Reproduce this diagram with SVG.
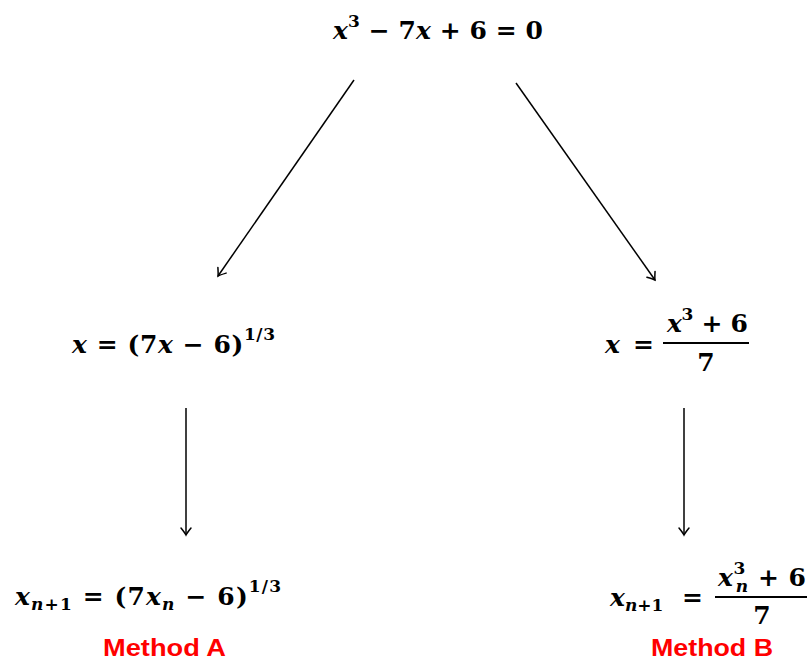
<svg xmlns="http://www.w3.org/2000/svg" width="809" height="661" viewBox="0 0 809 661">
<defs>
<style>
.m{font-family:"DejaVu Serif","Liberation Serif",serif;font-weight:bold;font-size:25px;fill:#000}
.i{font-style:italic}
.sup{font-size:17px}
.lbl{font-family:"Liberation Sans",Arial,sans-serif;font-weight:bold;font-size:24px;fill:#ff0000}
.c{stroke:#000;stroke-width:1.5;fill:none}
.fr{stroke:#000;stroke-width:2}
</style>
<marker id="ah" markerUnits="userSpaceOnUse" markerWidth="16" markerHeight="16" viewBox="-10 -8 12 16" refX="0" refY="0" orient="auto">
<path d="M-7,-5 Q-2,-1 0,0 Q-2,1 -7,5" fill="none" stroke="#000" stroke-width="1.5" stroke-linecap="round"/>
</marker>
</defs>
<g id="connectors">
<path class="c" d="M354,80 L218,276" marker-end="url(#ah)"/>
<path class="c" d="M516,83 L655,280" marker-end="url(#ah)"/>
<path class="c" d="M186,408 L186,535" marker-end="url(#ah)"/>
<path class="c" d="M684,408 L684,535" marker-end="url(#ah)"/>
</g>
<g id="top">
<text class="m" x="333" y="39" textLength="210" lengthAdjust="spacing"><tspan class="i">x</tspan><tspan class="sup" dy="-12">3</tspan><tspan dy="12"> − 7</tspan><tspan class="i">x</tspan><tspan> + 6 = 0</tspan></text>
</g>
<g id="left">
<text class="m" x="72" y="353" textLength="203" lengthAdjust="spacing"><tspan class="i">x</tspan><tspan> = (7</tspan><tspan class="i">x</tspan><tspan> − 6)</tspan><tspan class="sup" dy="-13">1/3</tspan></text>
</g>
<g id="right">
<text class="m" x="605" y="353"><tspan class="i">x</tspan></text>
<text class="m" x="633" y="353">=</text>
<text class="m" x="667" y="332" textLength="81" lengthAdjust="spacing"><tspan class="i">x</tspan><tspan class="sup" dy="-12">3</tspan><tspan dy="12"> + 6</tspan></text>
<line class="fr" x1="663" y1="343" x2="749" y2="343"/>
<text class="m" x="706" y="371" text-anchor="middle">7</text>
</g>
<g id="methodA">
<text class="m" x="15" y="605" textLength="266" lengthAdjust="spacing"><tspan class="i">x</tspan><tspan class="i sup" dy="5">n</tspan><tspan class="sup">+1</tspan><tspan dy="-5"> = (7</tspan><tspan class="i">x</tspan><tspan class="i sup" dy="5">n</tspan><tspan dy="-5"> − 6)</tspan><tspan class="sup" dy="-13">1/3</tspan></text>
<text class="lbl" x="103" y="656" textLength="123" lengthAdjust="spacingAndGlyphs">Method A</text>
</g>
<g id="methodB">
<text class="m" x="610" y="606"><tspan class="i">x</tspan><tspan class="i sup" dy="5">n</tspan><tspan class="sup">+1</tspan></text>
<text class="m" x="682" y="606">=</text>
<text class="m" x="718" y="586" textLength="88" lengthAdjust="spacing"><tspan class="i">x</tspan><tspan class="sup" dy="-12">3</tspan><tspan class="i sup" dx="-10" dy="18">n</tspan><tspan dy="-6"> + 6</tspan></text>
<line class="fr" x1="715" y1="597" x2="807" y2="597"/>
<text class="m" x="762" y="624" text-anchor="middle">7</text>
<text class="lbl" x="651" y="656" textLength="122" lengthAdjust="spacingAndGlyphs">Method B</text>
</g>
</svg>
